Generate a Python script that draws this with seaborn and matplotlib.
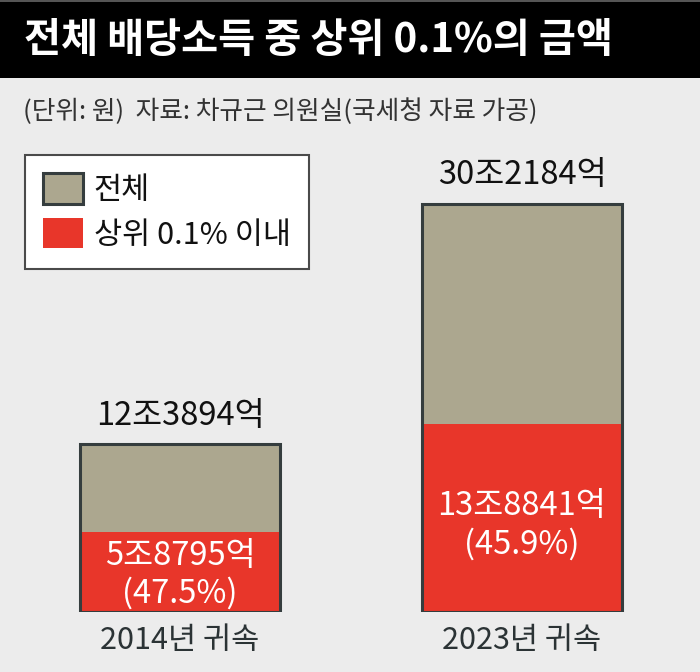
import matplotlib
matplotlib.use("Agg")
import matplotlib.pyplot as plt
from matplotlib.patches import Patch, Rectangle
import pandas as pd
import seaborn as sns

# 데이터 (단위: 조원)
years = ["2014년 귀속", "2023년 귀속"]
totals = [12.3894, 30.2184]
top01 = [5.8795, 13.8841]
total_labels = ["12조3894억", "30조2184억"]
top_labels = ["5조8795억\n(47.5%)", "13조8841억\n(45.9%)"]
legend_labels = ["전체", "상위 0.1% 이내"]

GREY = "#aca78f"
RED = "#e8362a"
EDGE = "#353d3e"
BG = "#ececec"

sns.set_theme(style="white")
plt.rcParams["font.family"] = ["Noto Sans CJK KR", "DejaVu Sans"]

df = pd.DataFrame({"year": years, "total": totals, "top": top01})

W, H = 700, 672
fig = plt.figure(figsize=(7, 6.72), dpi=100, facecolor=BG)

# 제목 바
fig.patches.append(Rectangle((0, 1 - 78 / H), 1, 78 / H, transform=fig.transFigure,
                             facecolor="black", edgecolor="none", zorder=0))
fig.patches.append(Rectangle((0, 1 - 2 / H), 1, 2 / H, transform=fig.transFigure,
                             facecolor="#555555", edgecolor="none", zorder=1))
fig.text(24 / W, 1 - 40 / H, "전체 배당소득 중 상위 0.1%의 금액", color="white",
         fontsize=29, fontweight="bold", va="center", ha="left")
fig.text(23 / W, 1 - 112 / H, "(단위: 원)  자료: 차규근 의원실(국세청 자료 가공)",
         color="#333333", fontsize=18.5, va="center", ha="left")

# 막대 축
ax = fig.add_axes([9 / W, 60.5 / H, 684 / W, 432 / H])
ax.set_facecolor("none")
bw = 0.585
sns.barplot(data=df, x="year", y="total", color=GREY, saturation=1, width=bw,
            errorbar=None, linewidth=0, edgecolor="none", ax=ax)
sns.barplot(data=df, x="year", y="top", color=RED, saturation=1, width=bw,
            errorbar=None, linewidth=0, edgecolor="none", ax=ax)
sns.barplot(data=df, x="year", y="total", color=EDGE, saturation=1, width=bw,
            errorbar=None, fill=False, linewidth=2.2, ax=ax)

ax.set_xlim(-0.5, 1.5)
ax.set_ylim(0, 32)
ax.set_xlabel("")
ax.set_ylabel("")
ax.set_yticks([])
ax.tick_params(axis="x", length=0, pad=10, labelsize=22, labelcolor="#2b3335")
for lab in ax.get_xticklabels():
    lab.set_fontweight("medium")
sns.despine(ax=ax, left=True, bottom=True)

for i, (t, r) in enumerate(zip(totals, top01)):
    ax.text(i, t + 2.1, total_labels[i], ha="center", va="center",
            fontsize=23.5, color="#111111", clip_on=False)
    ax.text(i, r * 0.46, top_labels[i], ha="center", va="center",
            fontsize=23.5, color="white", linespacing=1.2)

# 범례
handles = [Patch(facecolor=GREY, edgecolor=EDGE, linewidth=2.2, label=legend_labels[0]),
           Patch(facecolor=RED, edgecolor="none", label=legend_labels[1])]
leg = fig.legend(handles=handles, loc="upper left",
                 bbox_to_anchor=(25 / W, 1 - 155 / H), bbox_transform=fig.transFigure,
                 frameon=True, fancybox=False, framealpha=1, facecolor="white",
                 edgecolor="#4a4a4a", borderaxespad=0, fontsize=22,
                 handlelength=1.3, handleheight=1.15, handletextpad=0.35,
                 labelspacing=0.4, borderpad=0.6)
leg.get_frame().set_linewidth(1.5)
for txt in leg.get_texts():
    txt.set_color("#111111")

fig.savefig("out.png", dpi=100, facecolor=BG)
